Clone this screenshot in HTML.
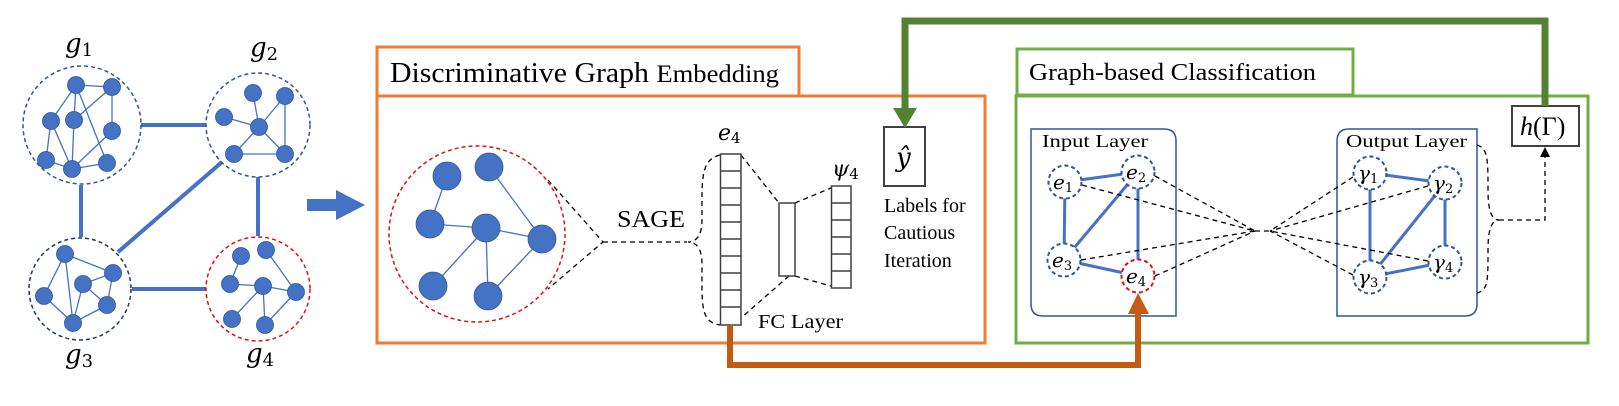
<!DOCTYPE html>
<html><head><meta charset="utf-8"><style>html,body{margin:0;padding:0;background:#fff}svg{display:block}</style></head>
<body>
<svg width="1619" height="406" viewBox="0 0 1619 406" xmlns="http://www.w3.org/2000/svg" font-family="Liberation Serif, serif">
<g stroke="#4472c4" stroke-width="4" fill="none">
<line x1="141" y1="125" x2="206" y2="125"/>
<line x1="81" y1="185" x2="81" y2="237"/>
<line x1="258" y1="177" x2="258" y2="236"/>
<line x1="132" y1="289" x2="206" y2="289"/>
<line x1="118" y1="252" x2="222" y2="162"/>
</g>
<g fill="none" stroke-width="1.5" stroke-dasharray="4,3">
<circle cx="82" cy="125" r="59" stroke="#2f5597"/>
<circle cx="258" cy="125" r="52" stroke="#2f5597"/>
<circle cx="80" cy="289" r="51" stroke="#203864"/>
<circle cx="258" cy="289" r="52" stroke="#e01010"/>
</g>
<g stroke="#4472c4" stroke-width="1.3">
<line x1="76" y1="85" x2="112" y2="87"/><line x1="76" y1="85" x2="51" y2="121"/><line x1="76" y1="85" x2="74" y2="120"/><line x1="76" y1="85" x2="107" y2="163"/><line x1="112" y1="87" x2="74" y2="120"/><line x1="112" y1="87" x2="112" y2="131"/><line x1="51" y1="121" x2="46" y2="160"/><line x1="51" y1="121" x2="72" y2="169"/><line x1="74" y1="120" x2="72" y2="169"/><line x1="112" y1="131" x2="72" y2="169"/><line x1="72" y1="169" x2="107" y2="163"/><line x1="46" y1="160" x2="72" y2="169"/>
<line x1="253" y1="93" x2="259" y2="127"/><line x1="285" y1="96" x2="259" y2="127"/><line x1="224" y1="117" x2="259" y2="127"/><line x1="259" y1="127" x2="234" y2="154"/><line x1="259" y1="127" x2="285" y2="154"/><line x1="234" y1="154" x2="285" y2="154"/><line x1="285" y1="96" x2="285" y2="154"/>
<line x1="65" y1="254" x2="113" y2="273"/><line x1="65" y1="254" x2="44" y2="296"/><line x1="65" y1="254" x2="73" y2="323"/><line x1="83" y1="284" x2="113" y2="273"/><line x1="83" y1="284" x2="107" y2="305"/><line x1="83" y1="284" x2="73" y2="323"/><line x1="113" y1="273" x2="107" y2="305"/><line x1="44" y1="296" x2="73" y2="323"/><line x1="107" y1="305" x2="73" y2="323"/>
<line x1="241" y1="256" x2="230" y2="284"/><line x1="230" y1="284" x2="263" y2="286"/><line x1="266" y1="250" x2="296" y2="292"/><line x1="263" y1="286" x2="296" y2="292"/><line x1="263" y1="286" x2="232" y2="319"/><line x1="263" y1="286" x2="265" y2="325"/><line x1="296" y1="292" x2="265" y2="325"/>
<line x1="447" y1="176" x2="430" y2="224"/><line x1="430" y1="224" x2="486" y2="228"/><line x1="489" y1="167" x2="542" y2="239"/><line x1="486" y1="228" x2="542" y2="239"/><line x1="486" y1="228" x2="433" y2="286"/><line x1="486" y1="228" x2="488" y2="296"/><line x1="542" y1="239" x2="488" y2="296"/>
</g>
<g fill="#4472c4" stroke="#2f5597" stroke-width="0.8">
<circle cx="76" cy="85" r="8.5"/><circle cx="112" cy="87" r="8.5"/><circle cx="51" cy="121" r="8.5"/><circle cx="74" cy="120" r="8.5"/><circle cx="112" cy="131" r="8.5"/><circle cx="46" cy="160" r="8.5"/><circle cx="72" cy="169" r="8.5"/><circle cx="107" cy="163" r="8.5"/>
<circle cx="253" cy="93" r="8.5"/><circle cx="285" cy="96" r="8.5"/><circle cx="224" cy="117" r="8.5"/><circle cx="259" cy="127" r="8.5"/><circle cx="234" cy="154" r="8.5"/><circle cx="285" cy="154" r="8.5"/>
<circle cx="65" cy="254" r="8.5"/><circle cx="113" cy="273" r="8.5"/><circle cx="83" cy="284" r="8.5"/><circle cx="44" cy="296" r="8.5"/><circle cx="107" cy="305" r="8.5"/><circle cx="73" cy="323" r="8.5"/>
<circle cx="241" cy="256" r="8.5"/><circle cx="266" cy="250" r="8.5"/><circle cx="230" cy="284" r="8.5"/><circle cx="263" cy="286" r="8.5"/><circle cx="296" cy="292" r="8.5"/><circle cx="232" cy="319" r="8.5"/><circle cx="265" cy="325" r="8.5"/>
<circle cx="447" cy="176" r="14"/><circle cx="489" cy="167" r="14"/><circle cx="430" cy="224" r="14"/><circle cx="486" cy="228" r="14"/><circle cx="542" cy="239" r="14"/><circle cx="433" cy="286" r="14"/><circle cx="488" cy="296" r="14"/>
</g>
<g font-style="italic" font-size="26" fill="#000" font-family="DejaVu Serif, serif">
<text x="65" y="52">g<tspan font-style="normal" font-size="18" dy="4">1</tspan></text>
<text x="250" y="56">g<tspan font-style="normal" font-size="18" dy="4">2</tspan></text>
<text x="65" y="363">g<tspan font-style="normal" font-size="18" dy="4">3</tspan></text>
<text x="246" y="362">g<tspan font-style="normal" font-size="18" dy="4">4</tspan></text>
</g>
<polygon points="307,199 336,199 336,190 365,205 336,220 336,211 307,211" fill="#4472c4"/>

<!-- orange section -->
<rect x="377" y="47" width="422" height="49" fill="none" stroke="#ed7d31" stroke-width="3"/>
<rect x="377" y="96" width="608" height="247" fill="none" stroke="#ed7d31" stroke-width="3"/>
<text x="390" y="82" font-size="28" textLength="389" lengthAdjust="spacingAndGlyphs">Discriminative Graph <tspan font-size="25">Embedding</tspan></text>
<circle cx="477" cy="234" r="88" fill="none" stroke="#e01010" stroke-width="1.5" stroke-dasharray="4,3"/>
<g fill="none" stroke="#000" stroke-width="1.3" stroke-dasharray="5,4">
<polyline points="548,180 603,242 548,289"/>
<line x1="603" y1="242" x2="687" y2="242"/>
<path d="M720,155 C700,160 702,180 702,220 C702,236 696,242 688,242 C696,242 702,248 702,264 C702,305 700,322 720,325"/>
<line x1="741" y1="155" x2="779" y2="203"/>
<line x1="795" y1="203" x2="831" y2="188"/>
<line x1="789" y1="276" x2="741" y2="318"/>
<line x1="795" y1="276" x2="831" y2="286"/>
</g>
<text x="617" y="227" font-size="24" textLength="68" lengthAdjust="spacingAndGlyphs">SAGE</text>
<g fill="#fff" stroke="#404040" stroke-width="1.5">
<rect x="720.5" y="154" width="20.5" height="171"/>
<rect x="779" y="203" width="16" height="73"/>
<rect x="831.5" y="186" width="19.5" height="102"/>
<rect x="884" y="127" width="41" height="59" stroke-width="2"/>
</g>
<g stroke="#404040" stroke-width="1.5">
<line x1="720.5" y1="171" x2="741" y2="171"/><line x1="720.5" y1="188" x2="741" y2="188"/><line x1="720.5" y1="205" x2="741" y2="205"/><line x1="720.5" y1="222" x2="741" y2="222"/><line x1="720.5" y1="239" x2="741" y2="239"/><line x1="720.5" y1="256" x2="741" y2="256"/><line x1="720.5" y1="273" x2="741" y2="273"/><line x1="720.5" y1="290" x2="741" y2="290"/><line x1="720.5" y1="307" x2="741" y2="307"/>
<line x1="831.5" y1="203" x2="851" y2="203"/><line x1="831.5" y1="220" x2="851" y2="220"/><line x1="831.5" y1="237" x2="851" y2="237"/><line x1="831.5" y1="254" x2="851" y2="254"/><line x1="831.5" y1="271" x2="851" y2="271"/>
</g>
<g font-family="DejaVu Serif, serif" font-style="italic" font-size="22">
<text x="718" y="140">e<tspan font-style="normal" font-size="15" dy="3">4</tspan></text>
<text x="832" y="176">ψ<tspan font-style="normal" font-size="15" dy="3">4</tspan></text>
<text x="896" y="166" font-size="26">ŷ</text>
</g>
<text x="758" y="328" font-size="20" textLength="85" lengthAdjust="spacingAndGlyphs">FC Layer</text>
<g font-size="20"><text x="884" y="212">Labels for</text><text x="884" y="239">Cautious</text><text x="884" y="267">Iteration</text></g>

<!-- green section -->
<rect x="1017" y="49" width="336" height="46" fill="none" stroke="#70ad47" stroke-width="3"/>
<rect x="1016" y="96" width="572" height="247" fill="none" stroke="#70ad47" stroke-width="3"/>
<text x="1029" y="80" font-size="24" textLength="287" lengthAdjust="spacingAndGlyphs">Graph-based Classification</text>
<g fill="none" stroke="#2f5597" stroke-width="1.5">
<path d="M1031,129 H1164 Q1176,129 1176,141 V316 H1043 Q1031,316 1031,304 Z"/>
<path d="M1349,129 H1477 V304 Q1477,316 1465,316 H1337 V141 Q1337,129 1349,129 Z"/>
</g>
<text x="1042" y="147" font-size="18" textLength="106" lengthAdjust="spacingAndGlyphs">Input Layer</text>
<text x="1346" y="147" font-size="18" textLength="121" lengthAdjust="spacingAndGlyphs">Output Layer</text>
<g stroke="#4472c4" stroke-width="3">
<line x1="1065" y1="182" x2="1138" y2="172"/><line x1="1065" y1="182" x2="1064" y2="260"/><line x1="1138" y1="172" x2="1064" y2="260"/><line x1="1138" y1="172" x2="1138" y2="276"/><line x1="1064" y1="260" x2="1138" y2="276"/>
<line x1="1370" y1="173" x2="1445" y2="183"/><line x1="1370" y1="173" x2="1370" y2="277"/><line x1="1445" y1="183" x2="1370" y2="277"/><line x1="1445" y1="183" x2="1445" y2="262"/><line x1="1370" y1="277" x2="1445" y2="262"/>
</g>
<g fill="none" stroke="#000" stroke-width="1.3" stroke-dasharray="5,4">
<line x1="1082" y1="185" x2="1255" y2="231"/><line x1="1155" y1="176" x2="1255" y2="231"/><line x1="1081" y1="260" x2="1255" y2="231"/><line x1="1155" y1="276" x2="1255" y2="231"/>
<line x1="1255" y1="231" x2="1270" y2="231"/>
<line x1="1353" y1="177" x2="1270" y2="231"/><line x1="1428" y1="186" x2="1270" y2="231"/><line x1="1353" y1="275" x2="1270" y2="231"/><line x1="1428" y1="261" x2="1270" y2="231"/>
<path d="M1477,145 C1488,148 1488,160 1488,190 C1488,212 1492,220 1499,220 C1492,220 1488,228 1488,250 C1488,282 1488,290 1477,293"/>
<polyline points="1499,220 1545,220 1545,156"/>
</g>
<polygon points="1540,157 1550,157 1545,147" fill="#000"/>
<g fill="#fff" stroke-width="2" stroke-dasharray="4,3">
<circle cx="1065" cy="182" r="16.5" stroke="#2f5597"/><circle cx="1138" cy="172" r="16.5" stroke="#2f5597"/><circle cx="1064" cy="260" r="16.5" stroke="#2f5597"/><circle cx="1138" cy="276" r="16.5" stroke="#e01010"/>
<circle cx="1370" cy="173" r="16.5" stroke="#2f5597"/><circle cx="1445" cy="183" r="16.5" stroke="#2f5597"/><circle cx="1370" cy="277" r="16.5" stroke="#2f5597"/><circle cx="1445" cy="262" r="16.5" stroke="#2f5597"/>
</g>
<g font-family="DejaVu Serif, serif" font-style="italic" font-size="20">
<text x="1053" y="189">e<tspan font-style="normal" font-size="13" dy="3">1</tspan></text>
<text x="1126" y="179">e<tspan font-style="normal" font-size="13" dy="3">2</tspan></text>
<text x="1052" y="267">e<tspan font-style="normal" font-size="13" dy="3">3</tspan></text>
<text x="1126" y="283">e<tspan font-style="normal" font-size="13" dy="3">4</tspan></text>
<text x="1358" y="180">γ<tspan font-style="normal" font-size="13" dy="3">1</tspan></text>
<text x="1433" y="190">γ<tspan font-style="normal" font-size="13" dy="3">2</tspan></text>
<text x="1358" y="284">γ<tspan font-style="normal" font-size="13" dy="3">3</tspan></text>
<text x="1433" y="269">γ<tspan font-style="normal" font-size="13" dy="3">4</tspan></text>
</g>
<rect x="1512" y="106" width="67" height="40" fill="#fff" stroke="#404040" stroke-width="2"/>
<text x="1520" y="135" font-size="26"><tspan font-style="italic">h</tspan>(Γ)</text>

<!-- connectors -->
<polyline points="905,111 905,21 1545,21 1545,106" fill="none" stroke="#548235" stroke-width="7"/>
<polygon points="893,108 917,108 905,128" fill="#548235"/>
<polyline points="730,325 730,365 1138,365 1138,312" fill="none" stroke="#c55a11" stroke-width="6"/>
<polygon points="1128,314 1149,314 1138,293" fill="#c55a11"/>
</svg>
</body></html>
